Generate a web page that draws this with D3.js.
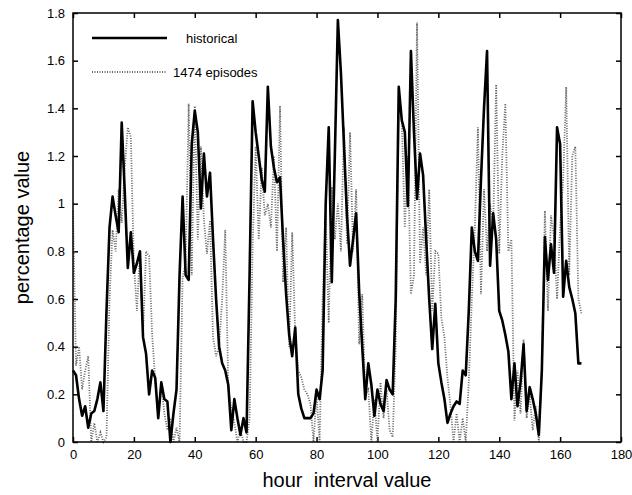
<!DOCTYPE html>
<html>
<head>
<meta charset="utf-8">
<script src="https://cdn.jsdelivr.net/npm/d3@7"></script>
<style>
  body { margin: 0; background: #fff; }
  svg { font-family: "Liberation Sans", Arial, sans-serif; }
  .axis path { display: none; }
  .axis text { font-size: 13px; fill: #000; }
</style>
</head>
<body>
<svg id="chart" width="632" height="495"></svg>
<script>
// hourly values, hour 0..167
const historical = [
  0.30, 0.28, 0.18, 0.11, 0.15, 0.06, 0.12, 0.13, 0.18, 0.25,
  0.13, 0.55, 0.90, 1.03, 0.95, 0.88, 1.34, 1.05, 0.73, 0.88,
  0.71, 0.75, 0.80, 0.44, 0.37, 0.20, 0.30, 0.27, 0.10, 0.25,
  0.18, 0.17, 0.00, 0.12, 0.22, 0.70, 1.03, 0.70, 0.68, 1.25,
  1.39, 1.30, 0.98, 1.21, 1.03, 1.13, 0.85, 0.60, 0.40, 0.33,
  0.30, 0.24, 0.05, 0.18, 0.10, 0.03, 0.10, 0.04, 0.70, 1.43,
  1.30, 1.20, 1.10, 1.05, 1.49, 1.24, 1.15, 1.09, 1.11, 0.85,
  0.62, 0.45, 0.36, 0.48, 0.20, 0.14, 0.10, 0.10, 0.10, 0.12,
  0.22, 0.18, 0.30, 1.00, 1.32, 0.67, 1.20, 1.77, 1.55, 1.25,
  0.95, 0.74, 0.85, 0.96, 0.63, 0.40, 0.18, 0.33, 0.24, 0.11,
  0.22, 0.16, 0.13, 0.26, 0.22, 0.20, 0.60, 1.49, 1.35, 1.30,
  0.99, 1.64, 1.30, 1.02, 1.21, 1.12, 0.85, 0.60, 0.39, 0.58,
  0.33, 0.25, 0.18, 0.08, 0.12, 0.15, 0.17, 0.16, 0.30, 0.28,
  0.55, 0.90, 0.80, 0.76, 1.10, 1.40, 1.64, 0.74, 0.96, 0.85,
  0.55, 0.51, 0.45, 0.38, 0.18, 0.33, 0.15, 0.25, 0.41, 0.13,
  0.23, 0.18, 0.12, 0.03, 0.30, 0.86, 0.68, 0.83, 0.71, 1.32,
  1.25, 0.61, 0.76, 0.65, 0.60, 0.54, 0.33, 0.33
]

const episodes = [
  0.97, 0.32, 0.40, 0.22, 0.30, 0.36, 0.00, 0.08, 0.00, 0.04,
  0.00, 0.02, 0.60, 0.89, 0.80, 1.06, 0.92, 1.15, 1.32, 1.28,
  0.75, 0.55, 0.80, 0.45, 0.80, 0.78, 0.45, 0.26, 0.10, 0.25,
  0.12, 0.05, 0.10, 0.00, 0.06, 0.00, 0.69, 0.75, 1.42, 0.70,
  1.41, 0.85, 1.24, 0.93, 0.79, 0.93, 0.44, 0.36, 0.40, 0.60,
  0.89, 0.23, 0.14, 0.08, 0.00, 0.05, 0.00, 0.00, 0.10, 0.82,
  1.24, 0.85, 1.15, 0.95, 1.00, 0.90, 1.20, 0.80, 1.41, 0.67,
  0.90, 0.40, 0.88, 0.45, 0.30, 0.27, 0.22, 0.20, 0.16, 0.00,
  0.20, 0.00, 0.60, 0.96, 0.50, 1.07, 0.85, 1.00, 0.80, 1.32,
  0.83, 1.30, 0.80, 1.06, 0.41, 0.62, 0.20, 0.22, 0.00, 0.18,
  0.00, 0.25, 0.10, 0.22, 0.05, 0.02, 0.40, 1.45, 1.34, 0.90,
  1.20, 0.62, 0.70, 1.76, 0.75, 0.90, 0.70, 1.06, 0.55, 0.80,
  0.79, 0.52, 0.44, 0.27, 0.15, 0.00, 0.12, 0.00, 0.10, 0.00,
  0.25, 0.60, 0.90, 1.32, 0.62, 1.06, 0.80, 1.00, 0.90, 1.50,
  0.79, 1.20, 1.42, 0.80, 0.85, 0.09, 0.30, 0.12, 0.43, 0.10,
  0.20, 0.05, 0.15, 0.00, 0.30, 0.97, 0.55, 0.95, 0.86, 0.60,
  0.90, 1.10, 1.49, 0.70, 1.20, 1.24, 0.60, 0.54
]

const xTicks = [0, 20, 40, 60, 80, 100, 120, 140, 160, 180]
const yTicks = [0, 0.2, 0.4, 0.6, 0.8, 1, 1.2, 1.4, 1.6, 1.8]
const legendLabels = ['historical', '1474 episodes']

const svg = d3.select('#chart')
const margin = { left: 73, right: 11, top: 13, bottom: 53 }
const width = 632 - margin.left - margin.right
const height = 495 - margin.top - margin.bottom

const g = svg.append('g').attr('transform', `translate(${margin.left},${margin.top})`)

const x = d3.scaleLinear().domain([0, 180]).range([0, width])
const y = d3.scaleLinear().domain([0, 1.8]).range([height, 0])

const fmt = d => String(+d.toFixed(1))

// axes with inward ticks on all four sides
g.append('g').attr('class', 'axis')
    .attr('transform', `translate(0,${height})`)
    .call(d3.axisBottom(x).tickValues(xTicks).tickSize(-5).tickPadding(8).tickFormat(fmt))
g.append('g').attr('class', 'axis')
    .call(d3.axisTop(x).tickValues(xTicks).tickSize(-5).tickFormat(''))
g.append('g').attr('class', 'axis')
    .call(d3.axisLeft(y).tickValues(yTicks).tickSize(-5).tickPadding(8).tickFormat(fmt))
g.append('g').attr('class', 'axis')
    .attr('transform', `translate(${width},0)`)
    .call(d3.axisRight(y).tickValues(yTicks).tickSize(-5).tickFormat(''))

g.selectAll('.axis line').attr('stroke', '#000').attr('stroke-width', 1.5)

const line = d3.line().x((d, i) => x(i)).y(d => y(d))

g.append('path')
    .datum(episodes)
    .attr('fill', 'none')
    .attr('stroke', '#666')
    .attr('stroke-width', 1.8)
    .attr('stroke-dasharray', '1 1.5')
    .attr('d', line)

g.append('path')
    .datum(historical)
    .attr('fill', 'none')
    .attr('stroke', '#000')
    .attr('stroke-width', 2.6)
    .attr('stroke-linejoin', 'round')
    .attr('d', line)

// frame
g.append('rect')
    .attr('width', width).attr('height', height)
    .attr('fill', 'none').attr('stroke', '#000').attr('stroke-width', 1.5)

// legend
const legend = g.append('g').attr('transform', 'translate(19,25)')
legend.append('line').attr('x1', 0).attr('x2', 75).attr('y1', 0).attr('y2', 0)
    .attr('stroke', '#000').attr('stroke-width', 2.6)
legend.append('text').attr('x', 94).attr('y', 5).attr('font-size', 13).text(legendLabels[0])
legend.append('line').attr('x1', 0).attr('x2', 75).attr('y1', 34).attr('y2', 34)
    .attr('stroke', '#666').attr('stroke-width', 1.8).attr('stroke-dasharray', '1 1.5')
legend.append('text').attr('x', 81).attr('y', 39).attr('font-size', 13).text(legendLabels[1])

// axis titles
svg.append('text')
    .attr('x', margin.left + width / 2).attr('y', 487)
    .attr('text-anchor', 'middle').attr('font-size', 20)
    .style('white-space', 'pre')
    .text('hour  interval value')

svg.append('text')
    .attr('transform', `translate(29,${margin.top + height / 2}) rotate(-90)`)
    .attr('text-anchor', 'middle').attr('font-size', 20)
    .text('percentage value')
</script>
</body>
</html>
